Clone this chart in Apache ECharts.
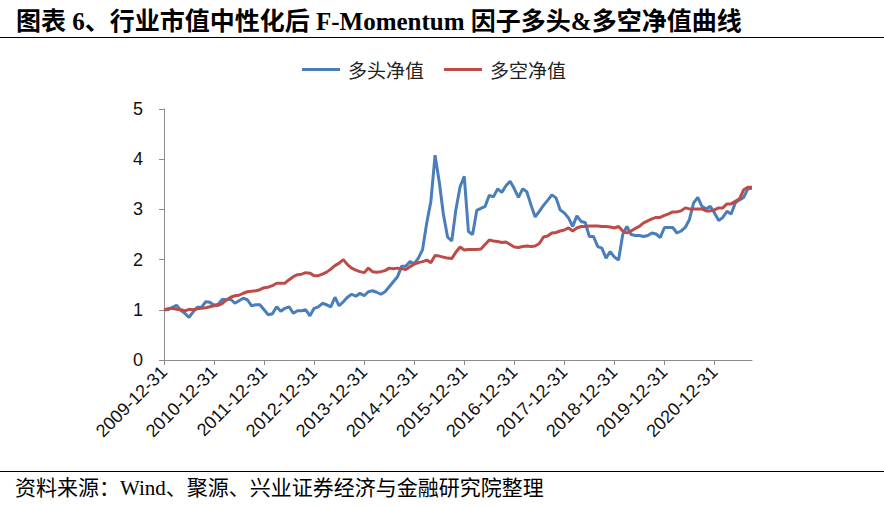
<!DOCTYPE html>
<html>
<head>
<meta charset="utf-8">
<script src="https://cdn.jsdelivr.net/npm/echarts@6/dist/echarts.min.js"></script>
<style>
html,body{margin:0;padding:0;background:#fff;}
#chart{width:884px;height:508px;}
</style>
</head>
<body>
<div id="chart"></div>
<script>
// Month-end categories from 2009-12-31 to 2021-09-30
const startYear = 2009, startMonth = 12, monthCount = 142;
const seriesNames = ['多头净值', '多空净值'];
const titleText = '图表 6、行业市值中性化后 F-Momentum 因子多头&多空净值曲线';
const sourceText = '资料来源：Wind、聚源、兴业证券经济与金融研究院整理';
const yTicks = [0, 1, 2, 3, 4, 5];

const longValues = [
1.00,1.00,1.05,1.09,0.99,0.93,0.85,0.96,1.05,1.05,1.16,1.15,
1.09,1.11,1.21,1.20,1.21,1.13,1.18,1.23,1.20,1.08,1.10,1.10,
1.00,0.90,0.92,1.06,0.97,1.03,1.06,0.93,0.98,0.98,1.00,0.88,
1.03,1.06,1.13,1.10,1.06,1.25,1.08,1.16,1.25,1.31,1.27,1.33,
1.28,1.36,1.38,1.35,1.31,1.36,1.46,1.56,1.66,1.87,1.87,1.96,
1.92,2.03,2.20,2.73,3.16,4.08,3.55,2.90,2.45,2.37,3.00,3.45,
3.66,2.56,2.50,2.98,3.02,3.06,3.28,3.25,3.41,3.34,3.47,3.56,
3.41,3.24,3.41,3.35,3.09,2.85,2.96,3.08,3.18,3.29,3.23,2.99,
2.93,2.83,2.66,2.87,2.76,2.74,2.46,2.46,2.26,2.23,2.03,2.16,
2.05,1.99,2.50,2.66,2.50,2.48,2.48,2.46,2.48,2.53,2.51,2.44,
2.64,2.64,2.64,2.53,2.57,2.64,2.80,3.13,3.24,3.06,3.01,3.06,
2.93,2.78,2.84,2.96,2.91,3.13,3.19,3.24,3.41,3.42
];

const longShortValues = [
1.00,1.02,1.03,1.01,1.00,0.98,1.01,1.00,1.02,1.03,1.04,1.06,
1.08,1.09,1.13,1.20,1.25,1.28,1.29,1.33,1.36,1.37,1.38,1.40,
1.44,1.45,1.48,1.53,1.53,1.53,1.60,1.66,1.70,1.71,1.74,1.73,
1.68,1.68,1.71,1.75,1.81,1.88,1.93,2.00,1.90,1.83,1.79,1.76,
1.74,1.83,1.76,1.75,1.76,1.78,1.83,1.82,1.83,1.82,1.80,1.86,
1.91,1.94,1.96,1.99,1.94,2.08,2.07,2.05,2.03,2.02,2.15,2.25,
2.19,2.20,2.20,2.20,2.21,2.30,2.39,2.37,2.36,2.34,2.35,2.30,
2.25,2.24,2.26,2.27,2.26,2.27,2.32,2.45,2.47,2.53,2.54,2.57,
2.59,2.63,2.57,2.63,2.66,2.66,2.67,2.67,2.67,2.66,2.66,2.65,
2.63,2.66,2.57,2.53,2.57,2.62,2.66,2.73,2.77,2.81,2.84,2.84,
2.88,2.91,2.95,2.95,2.97,3.03,3.01,3.01,3.01,3.01,2.97,2.97,
2.99,3.03,3.03,3.11,3.11,3.16,3.21,3.39,3.44,3.44
];

const categories = [];
for (let k = 0; k < monthCount; k++) {
  const m0 = startMonth - 1 + k;
  const y = startYear + Math.floor(m0 / 12);
  const m = (m0 % 12) + 1;
  const last = new Date(Date.UTC(y, m, 0)).getUTCDate();
  categories.push(y + '-' + String(m).padStart(2, '0') + '-' + String(last).padStart(2, '0'));
}

const chart = echarts.init(document.getElementById('chart'), null, {renderer: 'svg'});
const yearTick = (i) => i % 12 === 0;

chart.setOption({
  animation: false,
  backgroundColor: '#fff',
  title: {
    text: titleText,
    left: 11,
    top: 4,
    textStyle: {
      fontFamily: "'Liberation Serif', 'Noto Sans CJK SC'",
      fontWeight: 'bold',
      fontSize: 25,
      color: '#000'
    }
  },
  graphic: [
    {type: 'line', shape: {x1: 0, y1: 37.5, x2: 884, y2: 37.5}, style: {stroke: '#000', lineWidth: 1}},
    {type: 'line', shape: {x1: 0, y1: 471.5, x2: 884, y2: 471.5}, style: {stroke: '#000', lineWidth: 1}},
    {type: 'text', left: 15, top: 477, style: {text: sourceText, fill: '#000', font: "21px 'Liberation Serif', 'Noto Sans CJK SC'"}}
  ],
  legend: {
    data: seriesNames,
    left: 297,
    top: 55,
    icon: 'rect',
    itemWidth: 38,
    itemHeight: 3,
    itemGap: 20,
    textStyle: {fontSize: 19, color: '#222', fontFamily: "'Noto Sans CJK SC'", padding: [0, 0, 0, 3]}
  },
  grid: {left: 164, right: 132, top: 109, bottom: 148},
  xAxis: {
    type: 'category',
    data: categories,
    boundaryGap: false,
    axisLine: {lineStyle: {color: '#8c8c8c', width: 1}},
    axisTick: {interval: (i) => yearTick(i), length: 5, lineStyle: {color: '#8c8c8c'}},
    axisLabel: {
      interval: (i) => yearTick(i),
      rotate: 45,
      margin: 9,
      fontSize: 18,
      color: '#111',
      fontFamily: "'Liberation Sans', Arial"
    },
    splitLine: {show: false}
  },
  yAxis: {
    type: 'value',
    min: yTicks[0],
    max: yTicks[yTicks.length - 1],
    interval: 1,
    axisLine: {show: true, lineStyle: {color: '#8c8c8c', width: 1}},
    axisTick: {show: true, length: 5, lineStyle: {color: '#8c8c8c'}},
    axisLabel: {margin: 21, fontSize: 18, color: '#111', fontFamily: "'Liberation Sans', Arial"},
    splitLine: {show: false}
  },
  series: [
    {name: seriesNames[0], type: 'line', data: longValues, symbol: 'none', lineStyle: {color: '#4a7ebb', width: 3}, itemStyle: {color: '#4a7ebb'}, z: 2},
    {name: seriesNames[1], type: 'line', data: longShortValues, symbol: 'none', lineStyle: {color: '#be4b48', width: 3}, itemStyle: {color: '#be4b48'}, z: 3}
  ]
});
</script>
</body>
</html>
